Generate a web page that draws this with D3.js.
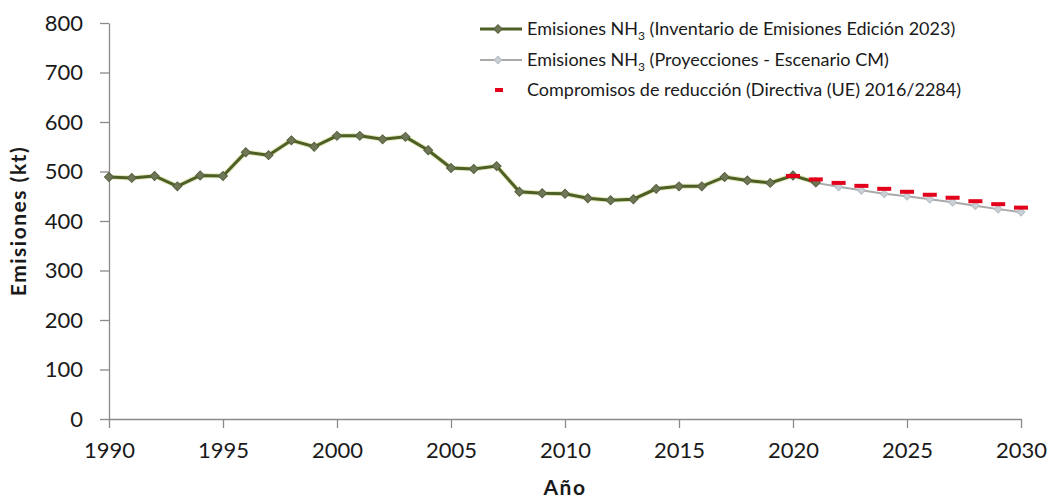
<!DOCTYPE html>
<html>
<head>
<meta charset="utf-8">
<script src="https://cdn.jsdelivr.net/npm/d3@7"></script>
<style>
  html, body { margin: 0; padding: 0; background: #fff; }
  svg { display: block; }
  text { font-family: Lato, "Open Sans", sans-serif; fill: #1a1a1a; }
</style>
</head>
<body>
<svg id="chart" width="1051" height="502"></svg>
<script>
// ---- data ----
const inventoryYears = d3.range(1990, 2022);
const inventoryValues = [489, 487, 491, 470, 492, 491, 539, 533, 563, 550, 572, 572, 565, 570, 543,
  507, 505, 511, 459, 456, 455, 446, 442, 444, 465, 470, 470, 489, 482, 477, 492, 478];
const projectionYears = d3.range(2020, 2031);
const projectionValues = [492, 477, 469, 462, 455, 450, 444, 438, 431, 424, 418];
const commitmentYears = d3.range(2020, 2031);
const commitmentValues = [491, 484, 477, 471, 465, 459, 453, 447, 440, 434, 427];
const yTicks = [0, 100, 200, 300, 400, 500, 600, 700, 800];
const xTicks = [1990, 1995, 2000, 2005, 2010, 2015, 2020, 2025, 2030];
const legendLabels = [
  ["Emisiones NH", "3", " (Inventario de Emisiones Edición 2023)"],
  ["Emisiones NH", "3", " (Proyecciones - Escenario CM)"],
  ["Compromisos de reducción (Directiva (UE) 2016/2284)", "", ""]
];

// ---- layout ----
const svg = d3.select("#chart");
const x = d3.scaleLinear().domain([1990, 2030]).range([109, 1021]);
const y = d3.scaleLinear().domain([0, 800]).range([419, 23]);
const axisColor = "#8a8a8a";
const greenLine = "#4c5f24";
const greenMarker = "#6e7656";
const grayLine = "#a9a9a9";
const grayMarker = "#c9d0d6";
const red = "#e3001b";

// axes
const yAxis = svg.append("g").attr("transform", `translate(${x(1990)},0)`)
  .call(d3.axisLeft(y).tickValues(yTicks).tickSize(9).tickSizeOuter(0).tickPadding(17));
const xAxis = svg.append("g").attr("transform", `translate(0,${y(0)})`)
  .call(d3.axisBottom(x).tickValues(xTicks).tickFormat(d3.format("d")).tickSize(9).tickSizeOuter(0).tickPadding(14));
[yAxis, xAxis].forEach(g => {
  g.selectAll("path, line").attr("stroke", axisColor).attr("stroke-width", 1.3);
  g.selectAll("text").style("font-size", "22px").style("font-family", "Lato, sans-serif").attr("fill", "#1a1a1a");
});

// axis titles
svg.append("text")
  .attr("transform", `translate(26,${(y(0) + y(800)) / 2}) rotate(-90)`)
  .attr("text-anchor", "middle")
  .style("font-size", "21px").style("font-weight", "bold").style("letter-spacing", "1.5px")
  .text("Emisiones (kt)");
svg.append("text")
  .attr("x", (x(1990) + x(2030)) / 2 + 0).attr("y", 495)
  .attr("text-anchor", "middle")
  .style("font-size", "21px").style("font-weight", "bold").style("letter-spacing", "1.5px")
  .text("Año");

const marker = d3.symbol().type(d3.symbolSquare);

// projections (under)
const projData = projectionYears.map((yr, i) => ({ yr, v: projectionValues[i] }));
svg.append("path").datum(projData)
  .attr("fill", "none").attr("stroke", grayLine).attr("stroke-width", 2)
  .attr("d", d3.line().x(d => x(d.yr)).y(d => y(d.v)));
svg.selectAll(".pm").data(projData).enter().append("path")
  .attr("transform", d => `translate(${x(d.yr)},${y(d.v)}) rotate(45)`)
  .attr("d", marker.size(30)())
  .attr("fill", grayMarker).attr("stroke", "#b5bcc3").attr("stroke-width", 1);

// inventory
const invData = inventoryYears.map((yr, i) => ({ yr, v: inventoryValues[i] }));
svg.append("path").datum(invData)
  .attr("fill", "none").attr("stroke", "#c8cf7a").attr("stroke-width", 5).attr("stroke-opacity", 0.5)
  .attr("d", d3.line().x(d => x(d.yr)).y(d => y(d.v)));
svg.append("path").datum(invData)
  .attr("fill", "none").attr("stroke", greenLine).attr("stroke-width", 3)
  .attr("d", d3.line().x(d => x(d.yr)).y(d => y(d.v)));
svg.selectAll(".im").data(invData).enter().append("path")
  .attr("transform", d => `translate(${x(d.yr)},${y(d.v)}) rotate(45)`)
  .attr("d", marker.size(40)())
  .attr("fill", greenMarker).attr("stroke", "#556040").attr("stroke-width", 1);

// commitments (dash markers)
const comData = commitmentYears.map((yr, i) => ({ yr, v: commitmentValues[i] }));
svg.selectAll(".cm").data(comData).enter().append("rect")
  .attr("x", d => x(d.yr) - 7).attr("y", d => y(d.v) - 2)
  .attr("width", 14).attr("height", 4)
  .attr("fill", red);

// legend
const legX = 480, legTextX = 527, legRows = [29, 60, 90];
const leg = svg.append("g");
// row 1
leg.append("line").attr("x1", legX).attr("x2", 522).attr("y1", legRows[0]).attr("y2", legRows[0])
  .attr("stroke", greenLine).attr("stroke-width", 3);
leg.append("path").attr("transform", `translate(498,${legRows[0]}) rotate(45)`).attr("d", marker.size(36)())
  .attr("fill", greenMarker).attr("stroke", "#556040");
// row 2
leg.append("line").attr("x1", legX).attr("x2", 522).attr("y1", legRows[1]).attr("y2", legRows[1])
  .attr("stroke", grayLine).attr("stroke-width", 2);
leg.append("path").attr("transform", `translate(498,${legRows[1]}) rotate(45)`).attr("d", marker.size(28)())
  .attr("fill", grayMarker).attr("stroke", "#b5bcc3");
// row 3
leg.append("rect").attr("x", 495).attr("y", legRows[2] - 2).attr("width", 8).attr("height", 4).attr("fill", red);

legendLabels.forEach((parts, i) => {
  const t = leg.append("text").attr("x", legTextX).attr("y", legRows[i] + 6)
    .style("font-size", "18px");
  t.append("tspan").text(parts[0]);
  if (parts[1]) {
    t.append("tspan").attr("dy", 5).style("font-size", "12px").text(parts[1]);
    t.append("tspan").attr("dy", -5).text("\u00a0" + parts[2].trim());
  }
});
</script>
</body>
</html>
